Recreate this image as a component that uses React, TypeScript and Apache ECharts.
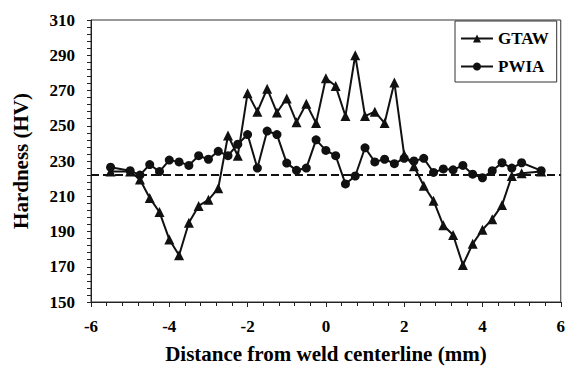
import React, { useEffect, useRef } from "react";
import * as echarts from "echarts";

const distance = [
  -5.5, -5.0, -4.75, -4.5, -4.25, -4.0, -3.75, -3.5, -3.25, -3.0, -2.75, -2.5, -2.25,
  -2.0, -1.75, -1.5, -1.25, -1.0, -0.75, -0.5, -0.25, 0, 0.25, 0.5, 0.75, 1.0, 1.25,
  1.5, 1.75, 2.0, 2.25, 2.5, 2.75, 3.0, 3.25, 3.5, 3.75, 4.0, 4.25, 4.5, 4.75, 5.0, 5.5,
];

const gtaw = [
  224, 224, 219.5, 209, 201, 185.5, 176.5, 195, 204.5, 208, 214.5, 244.5, 233,
  268.5, 258, 271, 257.5, 265.5, 252, 262.5, 251.5, 277, 272.5, 255.5, 290, 255.5, 258,
  251.5, 274.5, 233.5, 227, 216, 207.5, 193.5, 188, 171, 183, 191, 197, 205, 221.5, 223, 224,
];

const pwia = [
  226.5, 224.5, 222, 228, 224, 230.5, 229.5, 227.5, 233, 231, 235.5, 233, 239.5,
  245, 226, 247, 245, 228.8, 224.7, 226, 242, 236, 233, 217, 221.5, 237.5, 229.5,
  231, 228.5, 231.5, 230, 231.5, 223.5, 225.5, 225, 227.5, 222.5, 220.5, 224.5, 229, 226, 229, 224.5,
];

const baseHardness = 222;
const xTicks = { min: -6, max: 6, interval: 2 };
const yTicks = { min: 150, max: 310, interval: 20 };

const FONT = "Liberation Serif";

export default function App() {
  const ref = useRef<HTMLDivElement>(null);
  useEffect(() => {
    if (!ref.current) return;
    const chart = echarts.init(ref.current, null, { renderer: "svg" });
    const axisLabelStyle = {
      fontFamily: FONT,
      fontWeight: "bold" as const,
      fontSize: 17,
      color: "#000",
    };
    chart.setOption({
      animation: false,
      backgroundColor: "#fff",
      textStyle: { fontFamily: FONT },
      grid: {
        left: 91,
        right: 1,
        top: 20,
        bottom: 60,
        show: true,
        borderColor: "#333",
        borderWidth: 1,
      },
      legend: {
        orient: "vertical",
        left: 455,
        top: 21,
        itemWidth: 32,
        itemHeight: 10,
        itemGap: 11,
        padding: [9, 8, 7, 5],
        borderColor: "#333",
        borderWidth: 1,
        backgroundColor: "#fff",
        textStyle: { ...axisLabelStyle, fontSize: 17 },
        data: ["GTAW", "PWIA"],
      },
      xAxis: {
        type: "value",
        min: xTicks.min,
        max: xTicks.max,
        interval: xTicks.interval,
        name: "Distance from weld centerline (mm)",
        nameLocation: "middle",
        nameGap: 41,
        nameTextStyle: { ...axisLabelStyle, fontSize: 21 },
        axisLine: { onZero: false, lineStyle: { color: "#222", width: 1 } },
        axisTick: { show: true, length: 5, lineStyle: { color: "#222" } },
        minorTick: { show: true, splitNumber: 5, length: 4, lineStyle: { color: "#222" } },
        splitLine: { show: false },
        axisLabel: { ...axisLabelStyle, margin: 16 },
      },
      yAxis: {
        type: "value",
        min: yTicks.min,
        max: yTicks.max,
        interval: yTicks.interval,
        name: "Hardness (HV)",
        nameLocation: "middle",
        nameGap: 60,
        nameTextStyle: { ...axisLabelStyle, fontSize: 21 },
        axisLine: { show: true, onZero: false, lineStyle: { color: "#222", width: 1 } },
        axisTick: { show: true, length: 4, lineStyle: { color: "#222" } },
        minorTick: { show: true, splitNumber: 5, length: 4, lineStyle: { color: "#222" } },
        splitLine: { show: false },
        axisLabel: { ...axisLabelStyle, margin: 16 },
      },
      series: [
        {
          name: "GTAW",
          type: "line",
          data: distance.map((d, i) => [d, gtaw[i]]),
          symbol: "triangle",
          symbolSize: 10,
          itemStyle: { color: "#111" },
          lineStyle: { color: "#111", width: 2 },
          z: 3,
        },
        {
          name: "PWIA",
          type: "line",
          data: distance.map((d, i) => [d, pwia[i]]),
          symbol: "circle",
          symbolSize: 9,
          itemStyle: { color: "#111" },
          lineStyle: { color: "#111", width: 2 },
          z: 3,
          markLine: {
            silent: true,
            symbol: "none",
            label: { show: false },
            lineStyle: { color: "#111", type: [8, 4], width: 2 },
            data: [{ yAxis: baseHardness }],
          },
        },
      ],
    });
    return () => chart.dispose();
  }, []);
  return <div ref={ref} style={{ width: 568, height: 369, position: "absolute", left: 0, top: 0 }} />;
}
